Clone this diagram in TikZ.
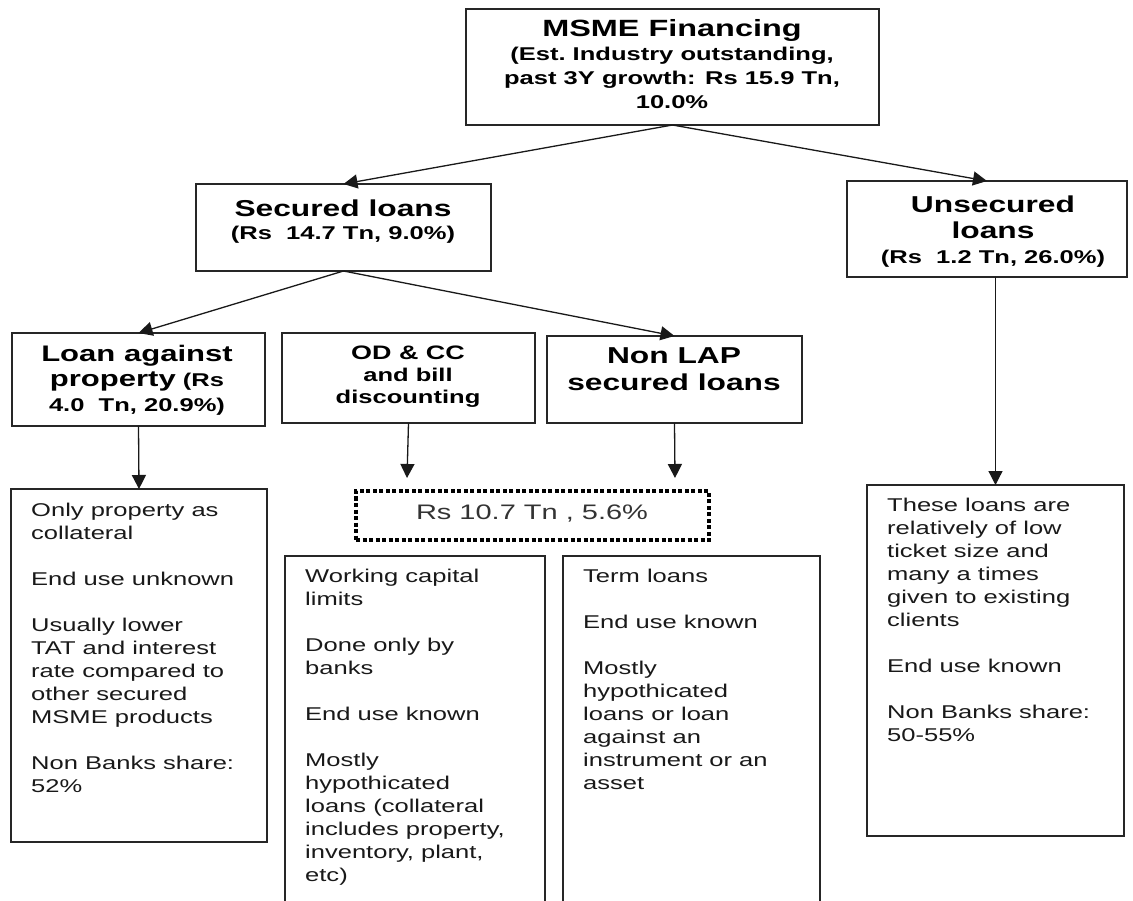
\documentclass[tikz,border=0pt]{standalone}
\usepackage{fontspec}
\setmainfont[FakeStretch=1.38]{Liberation Sans}
\usetikzlibrary{arrows.meta}
\begin{document}
\begin{tikzpicture}[x=1pt,y=-1pt,
  box/.style={draw=black!85, line width=1.4pt, anchor=north west, inner sep=0pt, outer sep=0pt},
  dbox/.style={draw=black, line width=3.2pt, dash pattern=on 4pt off 2.5pt, anchor=north west, inner sep=0pt, outer sep=0pt},
  body/.style={inner sep=0pt, align=left, anchor=north west, text=black!90, font=\fontsize{18.5}{23}\selectfont},
  head/.style={inner sep=0pt, align=center, anchor=north, text=black, font=\bfseries\fontsize{18.5}{24}\selectfont},
  arr/.style={-{Triangle[length=14pt,width=14pt]}, line width=1.3pt, draw=black!90},
]
\clip (0,0) rectangle (1133,901);
\fill[white] (0,0) rectangle (1133,901);

% boxes
\node[box, minimum width=413pt, minimum height=116pt] (msme) at (466,9) {};
\node[box, minimum width=295pt, minimum height=87pt] (sec) at (196,184) {};
\node[box, minimum width=280pt, minimum height=96pt] (unsec) at (847,181) {};
\node[box, minimum width=253pt, minimum height=93pt] (lap) at (12,333) {};
\node[box, minimum width=253pt, minimum height=90pt] (odcc) at (282,333) {};
\node[box, minimum width=255pt, minimum height=87pt] (nonlap) at (547,336) {};
\node[dbox, minimum width=353pt, minimum height=49pt] (total) at (356,491) {};
\node[box, minimum width=256pt, minimum height=353pt] (lapd) at (11,489) {};
\node[box, minimum width=260pt, minimum height=380pt] (wcd) at (285,556) {};
\node[box, minimum width=257pt, minimum height=380pt] (termd) at (563,556) {};
\node[box, minimum width=257pt, minimum height=351pt] (unsecd) at (867,485) {};

% headings
\node[head] (msmet) at (672,19) {{\fontsize{23.5}{24}\selectfont MSME Financing}\\(Est.\ Industry outstanding,\\past 3Y growth: Rs 15.9 Tn,\\10.0\%};
\node[head, font=\bfseries\fontsize{18.5}{23}\selectfont] (sect) at (343,200) {{\fontsize{23}{23}\selectfont Secured loans}\\(Rs\ \ 14.7 Tn, 9.0\%)};
\node[head, font=\bfseries\fontsize{18.5}{25.5}\selectfont] (unsect) at (993,196) {{\fontsize{23}{25.5}\selectfont Unsecured}\\{\fontsize{23}{25.5}\selectfont loans}\\(Rs\ \ 1.2 Tn, 26.0\%)};
\node[head, font=\bfseries\fontsize{18.5}{25}\selectfont] (lapt) at (137,345) {{\fontsize{22.5}{25}\selectfont Loan against}\\{\fontsize{22.5}{25}\selectfont property} (Rs\\4.0\ \ Tn, 20.9\%)};
\node[head, font=\bfseries\fontsize{18.5}{22}\selectfont] (odcct) at (408,346) {{\fontsize{19.5}{22}\selectfont OD \& CC}\\and bill\\discounting};
\node[head, font=\bfseries\fontsize{23}{27}\selectfont] (nonlapt) at (674,347) {Non LAP\\secured loans};
\node[head, font=\fontsize{21}{24}\selectfont, text=black!80] (totalt) at (532,505) {Rs 10.7 Tn , 5.6\%};

% descriptions
\node[body] (lapdt) at (31,503) {Only property as\\collateral\\[23pt]End use unknown\\[23pt]Usually lower\\TAT and interest\\rate compared to\\other secured\\MSME products\\[23pt]Non Banks share:\\52\%};
\node[body] (wcdt) at (305,569) {Working capital\\limits\\[23pt]Done only by\\banks\\[23pt]End use known\\[23pt]Mostly\\hypothicated\\loans (collateral\\includes property,\\inventory, plant,\\etc)};
\node[body] (termdt) at (583,569) {Term loans\\[23pt]End use known\\[23pt]Mostly\\hypothicated\\loans or loan\\against an\\instrument or an\\asset};
\node[body] (unsecdt) at (887,498) {These loans are\\relatively of low\\ticket size and\\many a times\\given to existing\\clients\\[23pt]End use known\\[23pt]Non Banks share:\\50-55\%};

% connectors
\coordinate (odend) at (407,478);
\coordinate (nlend) at (675,478);
\draw[arr] (msme.south) -- (sec.north);
\draw[arr] (msme.south) -- (unsec.north);
\draw[arr] (sec.south) -- (lap.north);
\draw[arr] (sec.south) -- (nonlap.north);
\draw[arr] (lap.south) -- (lapd.north);
\draw[arr] (odcc.south) -- (odend);
\draw[arr] (nonlap.south) -- (nlend);
\draw[arr] (unsec.south -| unsecd.north) -- (unsecd.north);
\end{tikzpicture}
\end{document}
